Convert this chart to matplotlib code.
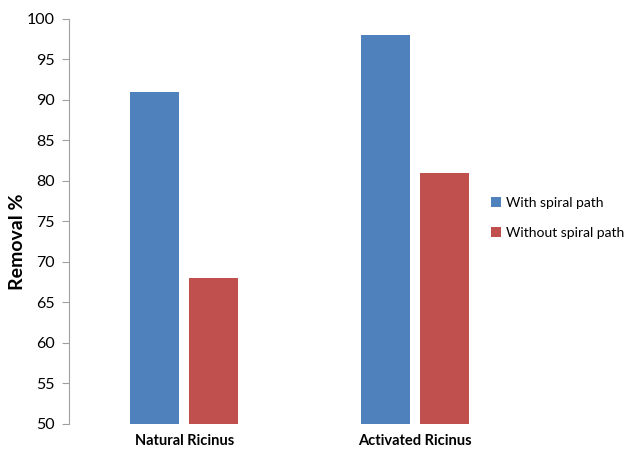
import matplotlib
matplotlib.use("Agg")
import matplotlib.pyplot as plt
import numpy as np

categories = ["Natural Ricinus", "Activated Ricinus"]
with_spiral = [91, 98]
without_spiral = [68, 81]
series_names = ["With spiral path", "Without spiral path"]
yticks = [50, 55, 60, 65, 70, 75, 80, 85, 90, 95, 100]

plt.rcParams["font.family"] = ["Lato", "DejaVu Sans"]

fig = plt.figure(figsize=(6.26, 4.5), dpi=100)
ax = fig.add_axes([0.110, 0.058, 0.737, 0.900])

x = np.arange(len(categories))
w = 0.213
off = 0.128
ax.bar(x - off, with_spiral, width=w, color="#4F81BD", label=series_names[0])
ax.bar(x + off, without_spiral, width=w, color="#C0504D", label=series_names[1])

ax.set_xlim(-0.5, 1.5)
ax.set_ylim(50, 100)
ax.set_yticks(yticks)
ax.set_yticklabels([str(v) for v in yticks], fontsize=11.5)
ax.set_xticks(x)
ax.set_xticklabels(categories, fontsize=10.5, fontweight="bold")
ax.tick_params(axis="x", length=0, pad=7)
ax.tick_params(axis="y", length=5, color="#A0A0A0", width=0.8, pad=5)

for s in ["top", "right", "bottom"]:
    ax.spines[s].set_visible(False)
ax.spines["left"].set_color("#A0A0A0")
ax.spines["left"].set_linewidth(0.8)

fig.text(18 / 626, 1 - 242 / 450, "Removal %", rotation=90, fontsize=14,
         fontweight="bold", ha="center", va="center")

leg = fig.legend(loc="center left", bbox_to_anchor=(491 / 626, 1 - 218 / 450),
                 frameon=False, borderpad=0, borderaxespad=0,
                 fontsize=10, handlelength=0.75, handleheight=0.75,
                 handletextpad=0.3, labelspacing=1.3)

fig.savefig("out.png", dpi=100)
